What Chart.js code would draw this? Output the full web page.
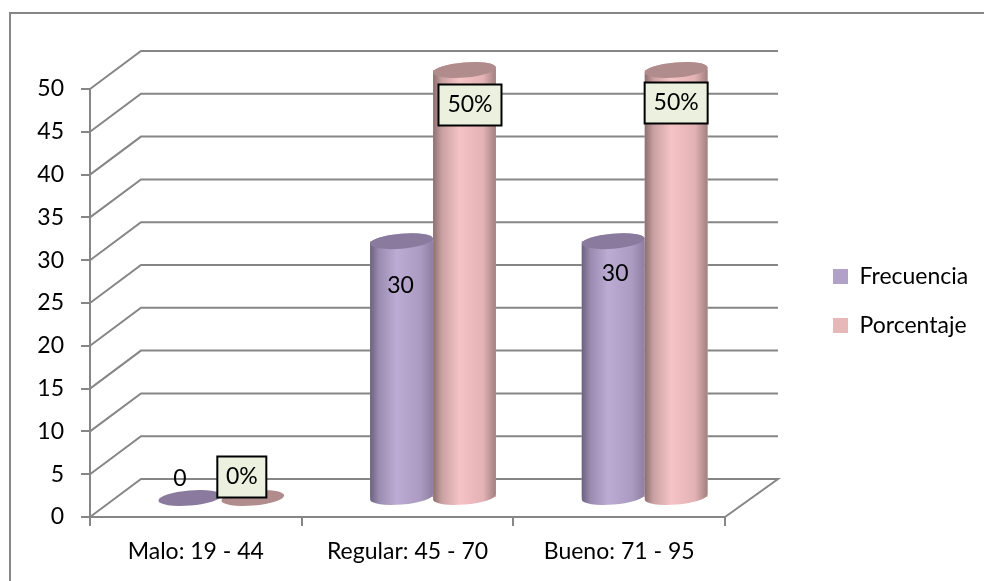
<!DOCTYPE html>
<html>
<head>
<meta charset="utf-8">
<script src="https://cdn.jsdelivr.net/npm/chart.js@4/dist/chart.umd.min.js"></script>
<style>
  html, body { margin: 0; padding: 0; background: #fff; }
  canvas { display: block; }
</style>
</head>
<body>
<canvas id="chart" width="984" height="581"></canvas>
<script>
const categories = ['Malo: 19 - 44', 'Regular: 45 - 70', 'Bueno: 71 - 95'];
const frecuencia = [0, 30, 30];
const porcentaje = [0, 50, 50];
const yTicks = [0, 5, 10, 15, 20, 25, 30, 35, 40, 45, 50];

const FONT = 'Lato';
const GRID = '#868686';
const DEPTH_X = 51, DEPTH_Y = 38;   // how far the back wall sits from the front axis

// hand-placed data labels in the original, offsets from the top of each bar
const labelOffsets = [
    [[-10, -19], [-1, 44], [2, 32]],
    [[-11, -21], [5.5, 35], [0, 33]],
];

// horizontal shading of the cylinder body, cap colour
const stopAt = [0, 0.14, 0.42, 0.8, 1];
const shades = [
    { stops: ['#6b6180', '#9a8bb0', '#bcacd4', '#ab9bc1', '#8e7ea2'], cap: '#8a7b9e' },
    { stops: ['#8c6e6e', '#c9a0a2', '#f6c3c5', '#e3b2b4', '#a08080'], cap: '#b08c8c' },
];

// walls, floor and gridlines of the 3D box, hung off the y scale ticks
const walls = {
    id: 'walls',
    beforeDatasetsDraw(chart) {
        const { ctx, scales: { x, y } } = chart;
        ctx.save();
        ctx.strokeStyle = GRID;
        ctx.lineWidth = 2;
        y.ticks.forEach(t => {
            const py = y.getPixelForValue(t.value);
            ctx.beginPath();
            ctx.moveTo(x.left, py);
            ctx.lineTo(x.left + DEPTH_X, py - DEPTH_Y);
            ctx.lineTo(x.right + DEPTH_X + 2, py - DEPTH_Y);
            if (t.value === 0) ctx.lineTo(x.right, py);
            ctx.stroke();
        });
        ctx.restore();
    },
};

// bars are pushed to the middle of the floor depth and shaded as cylinders
const cylinders = {
    id: 'cylinders',
    beforeDatasetDraw(chart) {
        chart.ctx.save();
        chart.ctx.translate(DEPTH_X / 2, -DEPTH_Y / 2);
    },
    afterDatasetDraw(chart) {
        chart.ctx.restore();
    },
    afterDatasetsDraw(chart) {
        const ctx = chart.ctx;
        const rot = -0.085, ry = 7.5;
        ctx.save();
        ctx.translate(DEPTH_X / 2, -DEPTH_Y / 2);
        // purple first, so the pink cylinder sits in front of it
        chart.data.datasets.forEach((ds, index) => {
            const shade = shades[index];
            chart.getDatasetMeta(index).data.forEach(bar => {
                const hw = bar.width / 2;
                if (bar.base - bar.y > 1) {
                    const g = ctx.createLinearGradient(bar.x - hw, 0, bar.x + hw, 0);
                    shade.stops.forEach((c, i) => g.addColorStop(stopAt[i], c));
                    ctx.beginPath();
                    ctx.ellipse(bar.x, bar.base, hw, ry, rot, 0, Math.PI);
                    ctx.ellipse(bar.x, bar.y, hw, ry, rot, Math.PI, 2 * Math.PI);
                    ctx.closePath();
                    ctx.fillStyle = g;
                    ctx.fill();
                }
                ctx.beginPath();
                ctx.ellipse(bar.x, bar.y, hw, ry, rot, 0, 2 * Math.PI);
                ctx.fillStyle = shade.cap;
                ctx.fill();
            });
        });
        ctx.restore();
    },
};

const valueLabels = {
    id: 'valueLabels',
    afterDraw(chart) {
        const ctx = chart.ctx;
        ctx.save();
        ctx.translate(DEPTH_X / 2, -DEPTH_Y / 2);
        ctx.font = '23px ' + FONT;
        ctx.textAlign = 'center';
        ctx.textBaseline = 'middle';
        chart.data.datasets.forEach((ds, index) => {
            chart.getDatasetMeta(index).data.forEach((bar, i) => {
                const off = labelOffsets[index][i];
                const cx = bar.x + off[0], cy = bar.y + off[1];
                const boxed = index === 1;
                if (boxed) {
                    const w = i === 0 ? 49 : 63, h = 41;
                    ctx.fillStyle = '#ebf1de';
                    ctx.strokeStyle = '#000';
                    ctx.lineWidth = 2;
                    ctx.fillRect(cx - w / 2, cy - h / 2, w, h);
                    ctx.strokeRect(cx - w / 2, cy - h / 2, w, h);
                }
                ctx.fillStyle = '#000';
                ctx.fillText(ds.data[i] + (boxed ? '%' : ''), cx, cy);
            });
        });
        ctx.restore();
    },
};

const frame = {
    id: 'frame',
    beforeDraw(chart) {
        // only the left and top edges of the border are inside the picture
        const ctx = chart.ctx;
        ctx.save();
        ctx.strokeStyle = GRID;
        ctx.lineWidth = 2;
        ctx.strokeRect(10, 13, 990, 600);
        ctx.restore();
    },
    afterLayout(chart) {
        // the legend floats right of the box instead of taking room from it
        const lg = chart.legend;
        lg.left = 807;
        lg.right = 984;
        lg.top = 239;
        lg.bottom = 400;
    },
};

new Chart(document.getElementById('chart'), {
    type: 'bar',
    data: {
        labels: categories,
        datasets: [
            { label: 'Frecuencia', data: frecuencia, backgroundColor: '#b1a0c7',
              categoryPercentage: 0.595, barPercentage: 1 },
            { label: 'Porcentaje', data: porcentaje, backgroundColor: '#e6b8b7',
              categoryPercentage: 0.595, barPercentage: 1 },
        ],
    },
    options: {
        responsive: false,
        animation: false,
        layout: { padding: { top: 89, right: 259 } },
        plugins: {
            tooltip: { enabled: false },
            legend: {
                position: 'chartArea',
                align: 'start',
                labels: { boxWidth: 15, boxHeight: 15, padding: 26, color: '#000', font: { family: FONT, size: 23 } },
            },
        },
        scales: {
            x: {
                afterFit(scale) { scale.height = 64; },
                grid: { drawOnChartArea: false, color: GRID, lineWidth: 2, tickLength: 9 },
                border: { color: GRID, width: 2 },
                ticks: { color: '#000', padding: 12, maxRotation: 0, font: { family: FONT, size: 23 } },
            },
            y: {
                min: 0,
                max: 50,
                afterFit(scale) { scale.width = 90; },
                afterBuildTicks(scale) { scale.ticks = yTicks.map(v => ({ value: v })); },
                grid: { drawOnChartArea: false, color: GRID, lineWidth: 2, tickLength: 9 },
                border: { color: GRID, width: 2 },
                ticks: { color: '#000', padding: 17, font: { family: FONT, size: 23 } },
            },
        },
    },
    plugins: [frame, walls, cylinders, valueLabels],
});
</script>
</body>
</html>
